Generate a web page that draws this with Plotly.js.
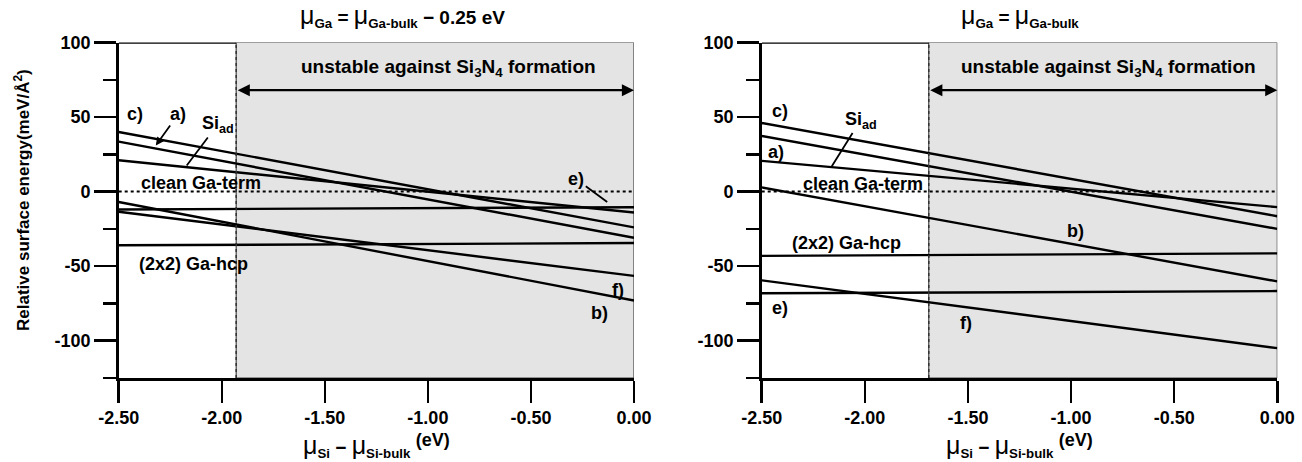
<!DOCTYPE html>
<html>
<head>
<meta charset="utf-8">
<script src="https://cdn.plot.ly/plotly-3.0.1.min.js"></script>
<style>html,body{margin:0;padding:0;background:#fff;}#chart{width:1302px;height:462px;}</style>
</head>
<body>
<div id="chart"></div>
<script>
// ---- data ----
const xEnds = [-2.5, 0];
const xTickVals = [-2.5, -2.0, -1.5, -1.0, -0.5, 0.0];
const xTickText = ["-2.50", "-2.00", "-1.50", "-1.00", "-0.50", "0.00"];
const yTickVals = [-100, -50, 0, 50, 100];
const yTickText = ["-100", "-50", "0", "50", "100"];

// left panel: mu_Ga = mu_Ga-bulk - 0.25 eV
const leftBoundary = -1.93;
const leftCleanGa = [0, 0];
const leftC = [40, -24];
const leftA = [33.5, -31];
const leftSiad = [21, -14];
const leftE = [-12, -10.5];
const leftHcp = [-36, -34.5];
const leftF = [-13.5, -56.5];
const leftB = [-7, -73];

// right panel: mu_Ga = mu_Ga-bulk
const rightBoundary = -1.69;
const rightCleanGa = [0, 0];
const rightC = [46, -16.5];
const rightA = [37.3, -25];
const rightSiad = [20.6, -10.4];
const rightB = [2.8, -60.2];
const rightHcp = [-43.1, -41.4];
const rightE = [-68.2, -66.7];
const rightF = [-59.5, -105];

const FONT = 'Liberation Sans, Arial, Helvetica, sans-serif';
const W = 1302, H = 462;

function line(y, xa, ya, dash) {
  return {x: xEnds, y: y, xaxis: xa, yaxis: ya, mode: 'lines', type: 'scatter',
          line: {color: '#000', width: dash ? 2 : 2.4, dash: dash || 'solid'},
          hoverinfo: 'skip', showlegend: false};
}

const traces = [
  line(leftCleanGa, 'x', 'y', 'dot'),
  line(leftC, 'x', 'y'), line(leftA, 'x', 'y'), line(leftSiad, 'x', 'y'),
  line(leftE, 'x', 'y'), line(leftHcp, 'x', 'y'), line(leftF, 'x', 'y'), line(leftB, 'x', 'y'),
  line(rightCleanGa, 'x2', 'y2', 'dot'),
  line(rightC, 'x2', 'y2'), line(rightA, 'x2', 'y2'), line(rightSiad, 'x2', 'y2'),
  line(rightB, 'x2', 'y2'), line(rightHcp, 'x2', 'y2'), line(rightE, 'x2', 'y2'), line(rightF, 'x2', 'y2')
];

const plotTop = 42.5, plotBottom = 378;
const yDom = [(H - plotBottom) / H, (H - plotTop) / H];

const tickFont = {family: FONT, size: 18, color: '#000', weight: 'bold'};
function xAxis(domain, anchor) {
  return {domain: domain, anchor: anchor, range: [-2.5, 0], tickmode: 'array',
          tickvals: xTickVals, ticktext: xTickText, ticks: 'outside', ticklen: 22, tickwidth: 2.5,
          tickcolor: '#000', showline: true, linewidth: 2.5, linecolor: '#000', showgrid: false,
          zeroline: false, tickfont: tickFont, fixedrange: true};
}
function yAxis(anchor) {
  return {domain: yDom, anchor: anchor, range: [-125, 100], tickmode: 'array',
          tickvals: yTickVals, ticktext: yTickText, ticks: 'outside', ticklen: 22, tickwidth: 2.5,
          tickcolor: '#000', showline: true, linewidth: 2.5, linecolor: '#000', showgrid: false,
          zeroline: false, tickfont: tickFont,
          minor: {tickmode: 'linear', tick0: 0, dtick: 25, ticks: 'outside', ticklen: 13, tickwidth: 2.5, tickcolor: '#000', showgrid: false},
          fixedrange: true};
}

function panelShapes(xr, yr, boundary) {
  return [
    {type: 'rect', xref: xr, yref: yr, x0: boundary, x1: 0, y0: -125, y1: 100,
     fillcolor: '#e4e4e4', line: {color: '#444', width: 1.2}, layer: 'below'},
    {type: 'line', xref: xr, yref: yr, x0: -2.5, x1: boundary, y0: 100, y1: 100,
     line: {color: '#000', width: 2.5}},
    {type: 'line', xref: xr, yref: yr, x0: boundary, x1: boundary, y0: -125, y1: 100,
     line: {color: '#333', width: 1.5, dash: 'dot'}}
  ];
}

const lblFont = {family: FONT, size: 18, color: '#000', weight: 'bold'};
const bigFont = {family: FONT, size: 19, color: '#000', weight: 'bold'};
function lbl(xr, yr, x, y, text, font) {
  return {xref: xr, yref: yr, x: x, y: y, text: text, showarrow: false, font: font || lblFont,
          xanchor: 'center', yanchor: 'middle'};
}
function ptr(xr, yr, tx, ty, lx, ly, text, head) {
  return {xref: xr, yref: yr, x: tx, y: ty, ax: lx, ay: ly, axref: xr, ayref: yr,
          text: text, showarrow: true, arrowhead: head, arrowsize: 0.9, arrowwidth: 1.8,
          arrowcolor: '#000', font: lblFont, standoff: 0};
}
function dblArrow(xr, yr, boundary) {
  return {xref: xr, yref: yr, x: 0, y: 68, ax: boundary, ay: 68, axref: xr, ayref: yr,
          text: '', showarrow: true, arrowhead: 2, startarrowhead: 2, arrowside: 'end+start',
          arrowsize: 1.1, startarrowsize: 1.1, arrowwidth: 2.2, arrowcolor: '#000'};
}

const MU = '<span style="font-weight:normal;font-size:25px">μ</span>';
const unstable = 'unstable against Si<sub>3</sub>N<sub>4</sub> formation';
const xTitle = MU + '<sub>Si</sub> − ' + MU + '<sub>Si-bulk</sub> <sup><span style="font-size:18px">(eV)</span></sup>';

const annotations = [
  // left panel
  dblArrow('x', 'y', leftBoundary),
  lbl('x', 'y', -0.90, 83, unstable, bigFont),
  lbl('x', 'y', -2.42, 52, 'c)'),
  ptr('x', 'y', -2.32, 31, -2.21, 52, 'a)', 2),
  ptr('x', 'y', -2.17, 17.5, -2.02, 45, 'Si<sub>ad</sub>', 0),
  lbl('x', 'y', -2.10, 5.5, 'clean Ga-term'),
  lbl('x', 'y', -2.135, -48.6, '(2x2) Ga-hcp'),
  ptr('x', 'y', -0.13, -7, -0.28, 8.2, 'e)', 0),
  lbl('x', 'y', -0.077, -66.1, 'f)'),
  lbl('x', 'y', -0.165, -81.3, 'b)'),
  // right panel
  dblArrow('x2', 'y2', rightBoundary),
  lbl('x2', 'y2', -0.82, 83, unstable, bigFont),
  lbl('x2', 'y2', -2.41, 54, 'c)'),
  ptr('x2', 'y2', -2.16, 17, -2.02, 48, 'Si<sub>ad</sub>', 0),
  lbl('x2', 'y2', -2.43, 26.8, 'a)'),
  lbl('x2', 'y2', -2.01, 5, 'clean Ga-term'),
  lbl('x2', 'y2', -2.09, -34.4, '(2x2) Ga-hcp'),
  lbl('x2', 'y2', -2.41, -78, 'e)'),
  lbl('x2', 'y2', -1.51, -88, 'f)'),
  lbl('x2', 'y2', -0.98, -26.7, 'b)'),
  // titles
  {xref: 'paper', yref: 'paper', x: (118.7 + 634) / 2 / W + 0.02, y: 1 - 16 / H, xanchor: 'center', yanchor: 'middle',
   showarrow: false, font: bigFont,
   text: MU + '<sub>Ga</sub> = ' + MU + '<sub>Ga-bulk</sub> − 0.25 eV'},
  {xref: 'paper', yref: 'paper', x: (761.7 + 1277.3) / 2 / W, y: 1 - 16 / H, xanchor: 'center', yanchor: 'middle',
   showarrow: false, font: bigFont,
   text: MU + '<sub>Ga</sub> = ' + MU + '<sub>Ga-bulk</sub>'},
  // x axis titles
  {xref: 'paper', yref: 'paper', x: (118.7 + 634) / 2 / W, y: 1 - 445 / H, xanchor: 'center', yanchor: 'middle',
   showarrow: false, font: bigFont, text: xTitle},
  {xref: 'paper', yref: 'paper', x: (761.7 + 1277.3) / 2 / W, y: 1 - 445 / H, xanchor: 'center', yanchor: 'middle',
   showarrow: false, font: bigFont, text: xTitle},
  // y axis title
  {xref: 'paper', yref: 'paper', x: 22 / W, y: 1 - 200 / H, xanchor: 'center', yanchor: 'middle',
   showarrow: false, textangle: -90, font: {family: FONT, size: 17, color: '#000', weight: 'bold'},
   text: 'Relative surface energy(meV/Å<sup>2</sup>)'}
];

const layout = {
  width: W, height: H, margin: {l: 0, r: 0, t: 0, b: 0},
  paper_bgcolor: '#fff', plot_bgcolor: 'rgba(0,0,0,0)',
  font: {family: FONT, color: '#000'},
  showlegend: false,
  xaxis: xAxis([118.7 / W, 634 / W], 'y'),
  yaxis: yAxis('x'),
  xaxis2: xAxis([761.7 / W, 1277.3 / W], 'y2'),
  yaxis2: yAxis('x2'),
  shapes: panelShapes('x', 'y', leftBoundary).concat(panelShapes('x2', 'y2', rightBoundary)),
  annotations: annotations
};

Plotly.newPlot('chart', traces, layout, {staticPlot: true, displayModeBar: false});
</script>
</body>
</html>
